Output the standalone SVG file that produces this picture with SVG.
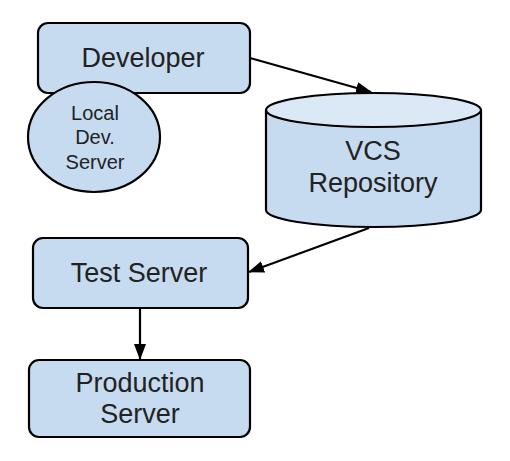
<svg xmlns="http://www.w3.org/2000/svg" width="510" height="461" viewBox="0 0 510 461">
<defs>
<marker id="arr" viewBox="0 0 16 12" refX="15" refY="6" markerWidth="16" markerHeight="12" markerUnits="userSpaceOnUse" orient="auto">
<path d="M0,0 L16,6 L0,12 z" fill="#000"/>
</marker>
<style>
.shape{fill:#c6daf0;stroke:#000;stroke-width:2.2}
.top{fill:#dbe8f6;stroke:#000;stroke-width:2.2}
.t{font-family:"Liberation Sans",Arial,sans-serif;fill:#222;text-anchor:middle}
.c{stroke:#000;stroke-width:2.2;fill:none}
</style>
</defs>
<rect width="510" height="461" fill="#fff"/>
<g id="developer">
<rect class="shape" x="38" y="23" width="212" height="70" rx="10"/>
<text class="t" x="143" y="67" font-size="27">Developer</text>
</g>
<g id="local-dev-server">
<ellipse class="shape" cx="94" cy="137" rx="66" ry="55"/>
<text class="t" x="95" y="120" font-size="20">Local</text>
<text class="t" x="95" y="144" font-size="20">Dev.</text>
<text class="t" x="95" y="169" font-size="20">Server</text>
</g>
<g id="vcs-repository">
<path class="shape" d="M266,110 L266,210 A107.5,17 0 0 0 481,210 L481,110"/>
<ellipse class="top" cx="373.5" cy="110" rx="107.5" ry="17"/>
<text class="t" x="373" y="160" font-size="27">VCS</text>
<text class="t" x="373" y="192" font-size="27">Repository</text>
</g>
<g id="test-server">
<rect class="shape" x="33" y="238" width="215" height="70" rx="10"/>
<text class="t" x="139" y="282" font-size="27">Test Server</text>
</g>
<g id="production-server">
<rect class="shape" x="29" y="360" width="221" height="77" rx="10"/>
<text class="t" x="140" y="392" font-size="27">Production</text>
<text class="t" x="140" y="423" font-size="27">Server</text>
</g>
<g id="connectors">
<line class="c" x1="250" y1="58" x2="371" y2="92" marker-end="url(#arr)"/>
<line class="c" x1="369" y1="228" x2="249" y2="272" marker-end="url(#arr)"/>
<line class="c" x1="140" y1="309" x2="140" y2="359" marker-end="url(#arr)"/>
</g>
</svg>
